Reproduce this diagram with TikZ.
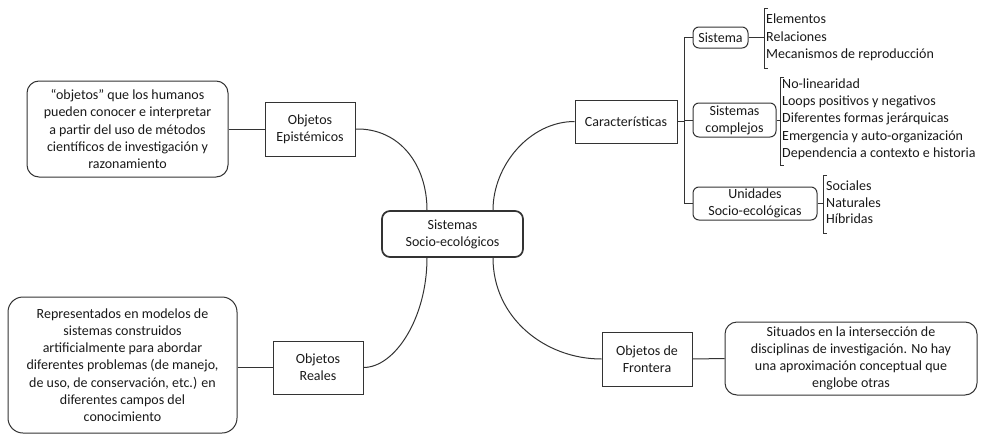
\documentclass[tikz,border=0pt]{standalone}
\usepackage{fontspec}
\setmainfont{Carlito}
\begin{document}
\begin{tikzpicture}[x=1pt,y=-1pt,
  every node/.style={font=\fontsize{14}{17.2}\selectfont, inner sep=0pt, text=black!90},
  rbox/.style={draw=black!80, rounded corners=12pt, line width=1pt, align=center},
  sbox/.style={draw=black!80, line width=1pt, align=center},
  cbox/.style={draw=black!80, rounded corners=6pt, line width=1pt, align=center},
  conn/.style={draw=black!80, line width=1pt},
  itemtxt/.style={anchor=west}]
\useasboundingbox (0,0) rectangle (988,434);

% center
\node[rbox, minimum width=141pt, minimum height=46pt, line width=1.7pt, rounded corners=8pt] (center) at (452.5,234) {Sistemas\\Socio-ecológicos};

% main branches
\node[sbox, minimum width=90pt, minimum height=54pt] (epi) at (310,129) {Objetos\\Epistémicos};
\node[sbox, minimum width=90pt, minimum height=53pt] (real) at (318,367.5) {Objetos\\Reales};
\node[sbox, minimum width=90pt, minimum height=54pt] (front) at (647,359) {Objetos de\\Frontera};
\node[sbox, minimum width=102pt, minimum height=43pt] (car) at (626,121.5) {Características};

% descriptions
\node[rbox, minimum width=201pt, minimum height=96pt] (epid) at (127.5,129) {“objetos” que los humanos\\pueden conocer e interpretar\\a partir del uso de métodos\\científicos de investigación y\\razonamiento};
\node[rbox, minimum width=229pt, minimum height=136pt, rounded corners=15pt] (reald) at (122.5,365) {Representados en modelos de\\sistemas construidos\\artificialmente para abordar\\diferentes problemas (de manejo,\\de uso, de conservación, etc.) en\\diferentes campos del\\conocimiento};
\node[rbox, minimum width=252pt, minimum height=73pt] (frontd) at (851,358.5) {Situados en la intersección de\\disciplinas de investigación. No hay\\una aproximación conceptual que\\englobe otras};

% sub boxes
\node[cbox, minimum width=55pt, minimum height=21pt] (sis) at (720.5,37.5) {Sistema};
\node[cbox, minimum width=83pt, minimum height=34pt] (sisc) at (734.5,120) {Sistemas\\complejos};
\node[cbox, minimum width=124pt, minimum height=33pt] (uni) at (755,203.5) {Unidades\\Socio-ecológicas};

% curves
\draw[conn] (epi.east) .. controls (400,128) and ([xshift=-25.5pt,yshift=45pt]center.north) .. ([xshift=-25.5pt]center.north);
\draw[conn] (car.west) .. controls (530,121.5) and ([xshift=40.5pt,yshift=45pt]center.north) .. ([xshift=40.5pt]center.north);
\draw[conn] ([xshift=-25.5pt]center.south) .. controls ([xshift=-25.5pt,yshift=-60pt]center.south) and (395,367.5) .. (real.east);
\draw[conn] ([xshift=40.5pt]center.south) .. controls ([xshift=40.5pt,yshift=-60pt]center.south) and (545,359) .. (front.west);

% straight connectors
\draw[conn] (epid.east) -- (epi.west);
\draw[conn] (reald.east |- real.west) -- (real.west);
\draw[conn] (front.east) -- (frontd.west);

% trunk
\coordinate (tt) at (684,37.5);
\coordinate (tb) at (684,203.5);
\draw[conn] (car.east) -- (car.east -| tt);
\draw[conn] (sis.west) -- (tt) -- (tb) -- (uni.west);
\draw[conn] (sisc.west) -- (sisc.west -| tt);

% brackets
\coordinate (b1t) at (764,8);
\coordinate (b1b) at (764,68);
\draw[conn] ([xshift=4pt]b1t) -- (b1t) -- (b1b) -- ([xshift=4pt]b1b);
\draw[conn] (sis.east) -- (sis.east -| b1t);
\node[itemtxt] (e1) at (766,19) {Elementos};
\node[itemtxt] (e2) at (766,37) {Relaciones};
\node[itemtxt] (e3) at (766,55) {Mecanismos de reproducción};

\coordinate (b2t) at (780,77);
\coordinate (b2b) at (780,165);
\draw[conn] ([xshift=4pt]b2t) -- (b2t) -- (b2b) -- ([xshift=4pt]b2b);
\draw[conn] (sisc.east) -- (sisc.east -| b2t);
\node[itemtxt] (c1) at (782,84) {No-linearidad};
\node[itemtxt] (c2) at (782,101.5) {Loops positivos y negativos};
\node[itemtxt] (c3) at (782,119) {Diferentes formas jerárquicas};
\node[itemtxt] (c4) at (782,136.5) {Emergencia y auto-organización};
\node[itemtxt] (c5) at (782,154) {Dependencia a contexto e historia};

\coordinate (b3t) at (823,175);
\coordinate (b3b) at (823,233);
\draw[conn] ([xshift=4pt]b3t) -- (b3t) -- (b3b) -- ([xshift=4pt]b3b);
\draw[conn] (uni.east) -- (uni.east -| b3t);
\node[itemtxt] (u1) at (826,185.5) {Sociales};
\node[itemtxt] (u2) at (826,202.5) {Naturales};
\node[itemtxt] (u3) at (826,219) {Híbridas};
\end{tikzpicture}
\end{document}
